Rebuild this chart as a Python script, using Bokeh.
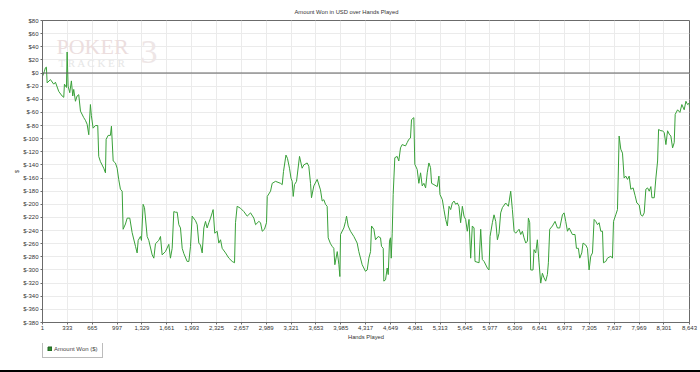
from bokeh.plotting import figure
from bokeh.layouts import column
from bokeh.models import FixedTicker, Span, Label, Legend, LegendItem, Range1d, Div
from bokeh.embed import file_html
from bokeh.resources import INLINE

hands = [1, 25, 40, 53, 63, 107, 151, 174, 218, 263, 285, 294, 321, 330, 343, 365, 387, 405, 418, 441,
         463, 485, 508, 552, 574, 597, 619, 641, 654, 677, 708, 739, 752, 775, 819, 842, 851, 878, 908, 922,
         945, 975, 998, 1019, 1042, 1065, 1078, 1109, 1132, 1167, 1198, 1243, 1265, 1279, 1309, 1323, 1345, 1363, 1399, 1421,
         1466, 1488, 1510, 1554, 1577, 1599, 1643, 1688, 1710, 1733, 1755, 1777, 1800, 1822, 1844, 1867, 1889, 1933, 1956, 1978,
         2000, 2045, 2067, 2089, 2111, 2134, 2156, 2178, 2200, 2223, 2245, 2267, 2280, 2302, 2334, 2356, 2379, 2401, 2446, 2490,
         2535, 2566, 2579, 2601, 2646, 2690, 2735, 2780, 2824, 2847, 2891, 2913, 2936, 2966, 2993, 3003, 3047, 3069, 3114, 3180,
         3203, 3220, 3253, 3273, 3300, 3320, 3336, 3350, 3367, 3394, 3434, 3469, 3491, 3536, 3558, 3581, 3594, 3625, 3670, 3714,
         3737, 3759, 3781, 3803, 3817, 3848, 3870, 3892, 3906, 3938, 3960, 3973, 3982, 4026, 4049, 4062, 4084, 4115, 4160, 4204,
         4226, 4271, 4315, 4338, 4360, 4383, 4396, 4427, 4449, 4485, 4516, 4529, 4552, 4560, 4583, 4605, 4619, 4636, 4649, 4659,
         4672, 4685, 4707, 4738, 4760, 4783, 4805, 4850, 4872, 4894, 4916, 4930, 4961, 4974, 5006, 5028, 5051, 5073, 5095, 5118,
         5140, 5162, 5184, 5198, 5229, 5274, 5296, 5310, 5342, 5363, 5386, 5409, 5431, 5453, 5475, 5498, 5520, 5542, 5564, 5586,
         5609, 5631, 5653, 5675, 5698, 5720, 5742, 5765, 5778, 5832, 5854, 5876, 5899, 5943, 5965, 5979, 6010, 6032, 6055, 6077,
         6099, 6121, 6144, 6188, 6224, 6255, 6277, 6300, 6322, 6366, 6389, 6411, 6433, 6456, 6478, 6491, 6509, 6522, 6553, 6566,
         6589, 6611, 6633, 6656, 6678, 6700, 6722, 6745, 6758, 6776, 6812, 6847, 6879, 6910, 6946, 6968, 6990, 7013, 7035, 7079,
         7114, 7133, 7159, 7177, 7204, 7221, 7257, 7280, 7302, 7324, 7347, 7369, 7391, 7414, 7436, 7458, 7481, 7494, 7525, 7547,
         7592, 7614, 7628, 7658, 7681, 7703, 7725, 7748, 7770, 7792, 7815, 7837, 7859, 7890, 7917, 7940, 7971, 7993, 8016, 8038,
         8060, 8083, 8105, 8127, 8141, 8172, 8194, 8217, 8230, 8261, 8283, 8306, 8328, 8350, 8372, 8394, 8417, 8439, 8452, 8484,
         8515, 8541, 8572, 8595, 8617, 8639, 8643]

amount = [-5, 2, 8, 9, -15, -10, -17, -14, -28, -35, -37, -17, -22, 32, -20, -30, -12, -35, -25, -43,
          -35, -33, -58, -68, -72, -78, -94, -48, -65, -84, -80, -80, -127, -135, -145, -152, -101, -95, -95, -81,
          -134, -137, -145, -162, -177, -180, -238, -230, -221, -221, -243, -264, -274, -255, -249, -255, -200, -205, -249, -255,
          -277, -282, -260, -255, -249, -277, -272, -261, -282, -267, -211, -212, -212, -231, -236, -267, -275, -287, -287, -264,
          -218, -225, -231, -259, -262, -274, -236, -226, -236, -228, -221, -213, -208, -244, -241, -259, -254, -267, -274, -282,
          -287, -289, -228, -203, -206, -211, -218, -213, -221, -231, -226, -228, -241, -238, -228, -188, -180, -168, -165, -168,
          -170, -150, -125, -130, -145, -160, -165, -188, -170, -165, -127, -145, -140, -137, -142, -168, -190, -172, -162, -178,
          -195, -193, -200, -203, -251, -260, -264, -267, -292, -272, -292, -310, -246, -236, -226, -218, -233, -241, -249, -259,
          -272, -292, -302, -300, -282, -272, -233, -238, -254, -249, -251, -264, -267, -317, -315, -297, -307, -256, -251, -282,
          -244, -185, -129, -127, -134, -114, -109, -111, -106, -101, -99, -71, -68, -139, -147, -168, -152, -172, -168, -175,
          -152, -137, -144, -168, -170, -173, -157, -185, -193, -208, -223, -233, -203, -208, -198, -195, -200, -198, -203, -228,
          -203, -218, -223, -241, -223, -282, -233, -236, -287, -289, -238, -284, -287, -297, -300, -249, -228, -216, -226, -254,
          -244, -213, -205, -198, -203, -180, -208, -241, -244, -238, -246, -241, -251, -259, -256, -221, -228, -300, -300, -269,
          -274, -254, -289, -320, -305, -312, -317, -307, -289, -238, -233, -226, -236, -236, -216, -213, -226, -241, -236, -246,
          -246, -267, -267, -282, -274, -259, -262, -267, -300, -279, -274, -223, -226, -231, -228, -241, -241, -289, -287, -282,
          -279, -282, -226, -216, -208, -96, -116, -122, -160, -157, -162, -157, -177, -175, -187, -198, -201, -216, -218, -213,
          -177, -175, -180, -173, -190, -190, -160, -134, -86, -88, -88, -91, -109, -88, -93, -96, -114, -106, -63, -56,
          -60, -48, -56, -43, -48, -46, -53]

x_ticks = [1, 333, 665, 997, 1329, 1661, 1993, 2325, 2657, 2989, 3321, 3653, 3985, 4317,
           4649, 4981, 5313, 5645, 5977, 6309, 6641, 6973, 7305, 7637, 7969, 8301, 8643]
x_tick_labels = ["1", "333", "665", "997", "1,329", "1,661", "1,993", "2,325", "2,657", "2,989",
                 "3,321", "3,653", "3,985", "4,317", "4,649", "4,981", "5,313", "5,645", "5,977",
                 "6,309", "6,641", "6,973", "7,305", "7,637", "7,969", "8,301", "8,643"]
y_ticks = [80, 60, 40, 20, 0, -20, -40, -60, -80, -100, -120, -140, -160, -180, -200, -220,
           -240, -260, -280, -300, -320, -340, -360, -380]
y_tick_labels = ["$" + str(v) for v in y_ticks]

title_text = "Amount Won in USD over Hands Played"
series_name = "Amount Won ($)"

FONT = "Liberation Sans"
AX = "#6b6b6b"

p = figure(width=700, height=343, output_backend="svg", toolbar_location=None,
           x_range=Range1d(1, 8643), y_range=Range1d(-380, 80),
           min_border_left=42, min_border_right=11, min_border_top=20, min_border_bottom=21)
p.outline_line_color = AX
p.outline_line_width = 1
p.background_fill_color = "white"
p.border_fill_color = "white"

p.title.text = title_text
p.title.text_font = FONT
p.title.text_font_size = "5.8px"
p.title.text_font_style = "normal"
p.title.text_color = "#333333"
p.title.align = "left"
p.title.offset = 252
p.title.standoff = 12

for ax in (p.xaxis[0], p.yaxis[0]):
    ax.axis_line_color = AX
    ax.major_tick_line_color = AX
    ax.major_tick_out = 2
    ax.major_tick_in = 0
    ax.minor_tick_line_color = None
    ax.major_label_text_font = FONT
    ax.major_label_text_font_size = "6px"
    ax.major_label_text_color = "#333333"
    ax.major_label_standoff = 2
    ax.axis_label_text_font = FONT
    ax.axis_label_text_font_size = "5.8px"
    ax.axis_label_text_font_style = "normal"
    ax.axis_label_text_color = "#333333"

p.xaxis[0].ticker = FixedTicker(ticks=x_ticks)
p.xaxis[0].major_label_overrides = dict(zip(x_ticks, x_tick_labels))
p.xaxis[0].major_label_standoff = 1
p.xaxis[0].axis_label = "Hands Played"
p.xaxis[0].axis_label_standoff = 1
p.yaxis[0].ticker = FixedTicker(ticks=y_ticks)
p.yaxis[0].major_label_overrides = dict(zip(y_ticks, y_tick_labels))
p.yaxis[0].axis_label = "$"
p.yaxis[0].axis_label_standoff = 0

p.xgrid.ticker = FixedTicker(ticks=x_ticks)
p.ygrid.ticker = FixedTicker(ticks=y_ticks)
for g in (p.xgrid[0], p.ygrid[0]):
    g.grid_line_color = "#ebebeb"
    g.grid_line_width = 1

# watermark (screen units, measured from the frame's bottom-left)
p.add_layout(Label(x=14, y=276, x_units="screen", y_units="screen", text="POKER",
                   text_font="Liberation Serif", text_font_size="22px",
                   text_color="#ecdede", text_baseline="middle", text_align="left"))
p.add_layout(Label(x=16, y=260, x_units="screen", y_units="screen", text="T R A C K E R",
                   text_font="Liberation Serif", text_font_size="11px",
                   text_color="#e6e6e6", text_baseline="middle", text_align="left"))
p.add_layout(Label(x=98, y=271, x_units="screen", y_units="screen", text="3",
                   text_font="Liberation Serif", text_font_size="34px",
                   text_color="#eee6e6", text_baseline="middle", text_align="left"))

zero = Span(location=0, dimension="width", line_color="#5e5e5e", line_width=1)
p.add_layout(zero)

p.line(hands, amount, line_color="#39a039", line_width=1)

# legend strip below the chart
q = figure(width=700, height=27, output_backend="svg", toolbar_location=None,
           x_range=Range1d(0, 1), y_range=Range1d(0, 1),
           x_axis_location=None, y_axis_location=None,
           min_border_left=42, min_border_right=11, min_border_top=0, min_border_bottom=0)
q.outline_line_color = None
q.grid.visible = False
q.background_fill_color = "white"
q.border_fill_color = "white"
sw = q.quad(left=[5], right=[6], top=[6], bottom=[5], fill_color="#2f8a2f", line_color="#1f5f1f")
legend = Legend(items=[LegendItem(label=series_name, renderers=[sw])], location=(0, 12))
legend.border_line_color = "#7a7a7a"
legend.border_line_width = 1
legend.background_fill_alpha = 1
legend.padding = 4
legend.margin = 0
legend.glyph_width = 5
legend.glyph_height = 5
legend.label_standoff = 2
legend.label_text_font = FONT
legend.label_text_font_size = "6px"
legend.label_height = 9
legend.spacing = 0
q.add_layout(legend, "center")

bar = Div(text='<div style="background:#000000;width:700px;height:2px;margin:0;padding:0;"></div>',
          width=700, height=2, margin=0, styles={"background-color": "#000000"})

layout = column(p, q, bar, spacing=0)
open("out.html", "w").write(file_html(layout, INLINE))
